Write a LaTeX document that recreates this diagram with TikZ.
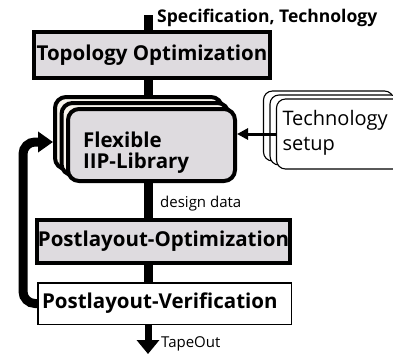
\documentclass[tikz,border=0pt]{standalone}
\usepackage{fontspec}
\setmainfont{Open Sans}
\usetikzlibrary{arrows.meta}
\definecolor{boxgray}{RGB}{222,219,223}
\definecolor{backcream}{RGB}{248,244,236}

\begin{document}
\begin{tikzpicture}[x=1pt,y=-1pt,
		flowbox/.style={draw=black,line width=4pt,fill=boxgray,inner sep=0pt,font=\fontsize{20.5}{24}\selectfont\bfseries},
		libbox/.style={draw=black,line width=4pt,rounded corners=11pt,minimum width=167pt,minimum height=72pt,inner sep=0pt},
		techbox/.style={draw=black,line width=1.1pt,fill=white,rounded corners=9pt,minimum width=130pt,minimum height=70pt,inner sep=0pt},
		spine/.style={line width=9pt},
		smalltext/.style={font=\fontsize{15}{18}\selectfont,inner sep=0pt}]
	\useasboundingbox (0,0) rectangle (393,354);
	\coordinate (spec) at (148,15);
	\coordinate (out) at (148,354);
	\coordinate (fb) at (23,142);

	\node[flowbox,minimum width=236pt,minimum height=46pt] (topo) at (152,55) {Topology Optimization};

	% library stack
	\node[libbox,fill=backcream] (libC) at (138.5,133) {};
	\node[libbox,fill=backcream] (libB) at (145,139) {};
	\node[libbox,fill=boxgray,text width=137pt,align=left,text height=18pt,text depth=14pt,
		font=\fontsize{20.5}{21}\selectfont\bfseries] (libA) at (151.5,145) {Flexible\\IIP-Library};

	% technology stack
	\node[techbox] (techC) at (328.5,126) {};
	\node[techbox] (techB) at (335,130) {};
	\node[techbox,text width=118pt,align=left,text height=14pt,text depth=32pt,
		font=\fontsize{20}{25}\selectfont] (techA) at (341.5,134) {Technology\\setup};

	\node[flowbox,minimum width=253pt,minimum height=43pt] (popt) at (163.5,241.5) {Postlayout-Optimization};
	\node[flowbox,fill=white,line width=1.5pt,minimum width=253.5pt,minimum height=41.5pt,text width=245pt,align=left] (pver) at (164.5,303.5) {Postlayout-Verification};

	% flow
	\draw[spine] (spec) -- (topo.north -| spec);
	\draw[spine] (topo.south -| spec) -- (libC.north -| spec);
	\draw[spine] (libA.south -| spec) -- (popt.north -| spec);
	\draw[spine] (popt.south -| spec) -- (pver.north -| spec);
	\draw[line width=7pt,-{Triangle[length=14pt,width=22pt]}] (pver.south -| spec) -- (out);
	\draw[line width=3pt,-{Triangle[length=11pt,width=11pt]}] (techA.west) -- (techA.west -| libA.east);
	\draw[spine,rounded corners=12pt,-{Triangle[length=15pt,width=20pt]}] (pver.west) -| (fb) -- (fb -| libC.west);

	\node[anchor=base west,inner sep=0pt,font=\fontsize{17.5}{20}\selectfont\bfseries] (spectext) at (157,22) {Specification, Technology};
	\node[smalltext,anchor=base west] (ddata) at (160,207) {design data};
	\node[smalltext,anchor=base west] (tape) at (161,347) {TapeOut};
\end{tikzpicture}
\end{document}
